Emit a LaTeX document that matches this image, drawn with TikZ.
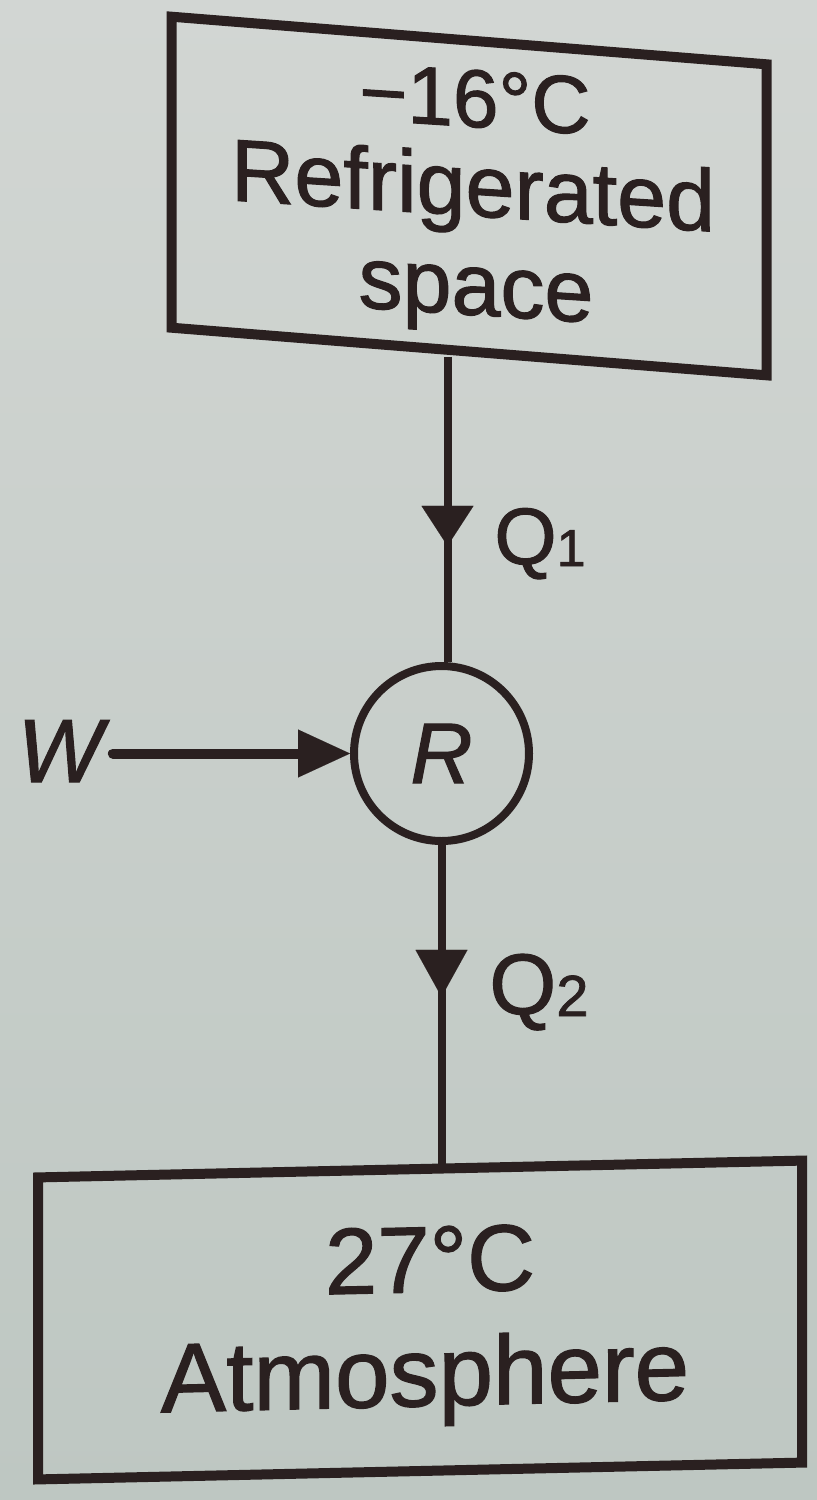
\documentclass[tikz,border=0pt]{standalone}
\usepackage{fontspec}
\setmainfont{Liberation Sans}[FakeBold=1.3]
\usetikzlibrary{arrows.meta,decorations.markings,calc}
\definecolor{ink}{HTML}{2A2020}
\definecolor{bgtop}{HTML}{D2D6D3}
\definecolor{bgbot}{HTML}{BEC7C2}
\begin{document}
\begin{tikzpicture}[x=0.5pt,y=-0.5pt,
  boxshape/.style={draw=ink, line width=5pt, rectangle, inner sep=0pt},
  lbl/.style={text=ink, inner sep=0pt, anchor=base},
  flow/.style={color=ink, line width=4pt},
  midtip/.style 2 args={postaction={decorate}, decoration={markings,
      mark=at position #1 with {\arrow{#2}}}}]
\shade[top color=bgtop, bottom color=bgbot] (0,0) rectangle (817,1500);
\useasboundingbox (0,0) rectangle (817,1500);

% top box
\node[boxshape, minimum width=297.5pt, minimum height=155.5pt, yslant=-0.08] (top) at (469,196) {};
\node[lbl, yslant=-0.065] (t1) at (475,127) {\fontsize{41pt}{41pt}\selectfont −16°C};
\node[lbl, yslant=-0.065] (t2) at (473,216) {\fontsize{44pt}{44pt}\selectfont Refrigerated};
\node[lbl, yslant=-0.065] (t3) at (476,315) {\fontsize{44pt}{44pt}\selectfont space};

% bottom box
\node[boxshape, minimum width=382pt, minimum height=151pt, yslant=0.022] (bot) at (420,1320) {};
\node[lbl, yslant=0.022] (b1) at (430,1292) {\fontsize{47pt}{47pt}\selectfont 27°C};
\node[lbl, yslant=0.024] (b2) at (425,1406) {\fontsize{49pt}{49pt}\selectfont Atmosphere};

% refrigerator
\node[draw=ink, line width=4pt, circle, minimum size=87.5pt, inner sep=0pt, text=ink,
      font=\itshape\fontsize{43pt}{43pt}\selectfont] (R) at (441.5,753.5) {R};

\path (R.north) ++(6,0) coordinate (Rn);
\draw[flow, midtip={0.62}{Triangle[length=20pt,width=26pt,line width=0.01pt]}]
  (top.south -| Rn) -- (Rn);
\draw[flow, midtip={0.476}{Triangle[length=23.5pt,width=26pt,line width=0.01pt]}]
  (R.south) -- (bot.north -| R.south);

\node[lbl, font=\itshape\fontsize{45pt}{45pt}\selectfont] (W) at (60,782) {W};
\draw[color=ink, line width=5pt, line cap=round, shorten <=5pt,
      -{Triangle[length=26pt,width=24pt,line width=0.01pt]}] (W.east |- R.west) -- (R.west);

\node[lbl, anchor=base west] (Q1) at (494,564)
  {\fontsize{40pt}{40pt}\selectfont Q\raisebox{-1pt}{\fontsize{26pt}{26pt}\selectfont 1}};
\node[lbl, anchor=base west] (Q2) at (489,1014)
  {\fontsize{43pt}{43pt}\selectfont Q\raisebox{-1pt}{\fontsize{29pt}{29pt}\selectfont 2}};
\end{tikzpicture}
\end{document}
